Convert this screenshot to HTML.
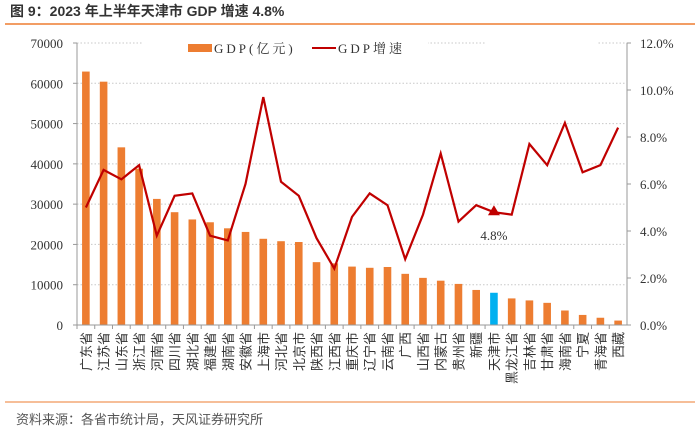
<!DOCTYPE html>
<html><head><meta charset="utf-8"><style>
body{margin:0;background:#fff;width:700px;height:427px;overflow:hidden;font-family:"Liberation Sans","Noto Sans CJK SC",sans-serif;}
</style></head><body>
<svg id="c" width="700" height="427" xmlns="http://www.w3.org/2000/svg">
<text x="10" y="16" font-size="14" font-weight="bold" fill="#333" font-family="Liberation Sans,Noto Sans CJK SC,sans-serif">图 9：2023 年上半年天津市 GDP 增速 4.8%</text>
<line x1="5" y1="24" x2="695" y2="24" stroke="#ED7D31" stroke-width="1.5"/>
<line x1="5" y1="402" x2="695" y2="402" stroke="#ED7D31" stroke-width="1"/>
<text x="16" y="424" font-size="13" fill="#555" font-family="Liberation Sans,Noto Sans CJK SC,sans-serif">资料来源：各省市统计局，天风证券研究所</text>
<g id="grid"></g><g id="bars"></g><g id="axes"></g><g id="line"></g>
<g>
<rect x="142" y="36" width="286" height="22" fill="#fff"/>
<rect x="188" y="44" width="24" height="8" fill="#ED7D31"/>
<text x="214" y="53" font-size="13" fill="#333" letter-spacing="3" font-family="Liberation Serif,Noto Serif CJK SC,serif">GDP(亿元)</text>
<rect x="485" y="36" width="112" height="22" fill="#fff"/>
<line x1="312" y1="48" x2="336" y2="48" stroke="#C00000" stroke-width="2"/>
<text x="338" y="53" font-size="13" fill="#333" letter-spacing="3" font-family="Liberation Serif,Noto Serif CJK SC,serif">GDP增速</text>
</g>
</svg>
<script>
const categories=["广东省","江苏省","山东省","浙江省","河南省","四川省","湖北省","福建省","湖南省","安徽省","上海市","河北省","北京市","陕西省","江西省","重庆市","辽宁省","云南省","广西","山西省","内蒙古","贵州省","新疆","天津市","黑龙江省","吉林省","甘肃省","海南省","宁夏","青海省","西藏"];
const gdpValues=[62910,60400,44100,38800,31300,28000,26200,25500,24000,23100,21400,20800,20600,15600,15300,14500,14200,14400,12700,11700,11000,10200,8700,8000,6600,6100,5500,3600,2500,1800,1100];
const growthValues=[5.0,6.6,6.2,6.8,3.8,5.5,5.6,3.8,3.6,6.0,9.7,6.1,5.5,3.7,2.4,4.6,5.6,5.1,2.8,4.7,7.3,4.4,5.1,4.8,4.7,7.7,6.8,8.6,6.5,6.8,8.4];
const leftTicks=[0,10000,20000,30000,40000,50000,60000,70000];
const rightTicks=["0.0%","2.0%","4.0%","6.0%","8.0%","10.0%","12.0%"];
const highlight="天津市";
const NS="http://www.w3.org/2000/svg";
const X0=77,X1=627,Y0=325,Y1=43;
const bw=(X1-X0)/categories.length;
const yL=v=>Y0-(v/70000)*(Y0-Y1);
const yR=v=>Y0-(v/12)*(Y0-Y1);
const xC=i=>X0+bw*(i+0.5);
function mk(t,a,p){const e=document.createElementNS(NS,t);for(const k in a)e.setAttribute(k,a[k]);p.appendChild(e);return e;}
const grid=document.getElementById('grid'),bars=document.getElementById('bars'),axes=document.getElementById('axes'),line=document.getElementById('line');
const ff="Liberation Serif,serif";
leftTicks.forEach(v=>{
  if(v>0){const g=mk('line',{x1:X0,x2:X1,y1:yL(v),y2:yL(v),stroke:'#c8c8c8','stroke-dasharray':'1.5,2'},grid);
  
  }
  const t=mk('text',{x:63,y:yL(v)+5,'text-anchor':'end','font-size':13,fill:'#333','font-family':ff},axes);t.textContent=v;
  
  
});
rightTicks.forEach((s,i)=>{
  const y=yR(i*2);
  mk('line',{x1:X1,x2:X1+4,y1:y,y2:y,stroke:'#999'},axes);
  const t=mk('text',{x:640,y:y+5,'font-size':13,fill:'#333','font-family':ff},axes);t.textContent=s;
  
  
});
leftTicks.forEach(v=>mk('line',{x1:X0-4,x2:X0,y1:yL(v),y2:yL(v),stroke:'#999'},axes));
mk('line',{x1:X0,x2:X0,y1:Y1,y2:Y0,stroke:'#999'},axes);
mk('line',{x1:X1,x2:X1,y1:Y1,y2:Y0,stroke:'#999'},axes);
mk('line',{x1:X0,x2:X1,y1:Y0,y2:Y0,stroke:'#999'},axes);
categories.forEach((c,i)=>{
  mk('line',{x1:X0+bw*i,x2:X0+bw*i,y1:Y0,y2:Y0+4,stroke:'#999'},axes);
  const b=mk('rect',{x:xC(i)-3.8,width:7.6,y:yL(gdpValues[i]),height:Y0-yL(gdpValues[i]),fill:c===highlight?'#00B0F0':'#ED7D31'},bars);
  
  
  const t=mk('text',{transform:`translate(${xC(i)+5},${332}) rotate(-90)`,'text-anchor':'end','font-size':13,fill:'#333','font-family':'Liberation Sans,Noto Sans CJK SC,sans-serif'},axes);t.textContent=c;
  
  
});
const pts=growthValues.map((v,i)=>xC(i).toFixed(1)+','+yR(v).toFixed(1)).join(' ');
const pl=mk('polyline',{points:pts,fill:'none',stroke:'#C00000','stroke-width':2.2,'stroke-linejoin':'miter'},line);


const hi=categories.indexOf(highlight),hx=xC(hi),hy=yR(growthValues[hi]);
const tri=mk('polygon',{points:`${hx},${hy-7} ${hx-6},${hy+3} ${hx+6},${hy+3}`,fill:'#C00000'},line);


const lab=mk('text',{x:hx,y:hy+28,'text-anchor':'middle','font-size':13,fill:'#333','font-family':ff},line);lab.textContent=growthValues[hi].toFixed(1)+'%';


</script>
</body></html>
